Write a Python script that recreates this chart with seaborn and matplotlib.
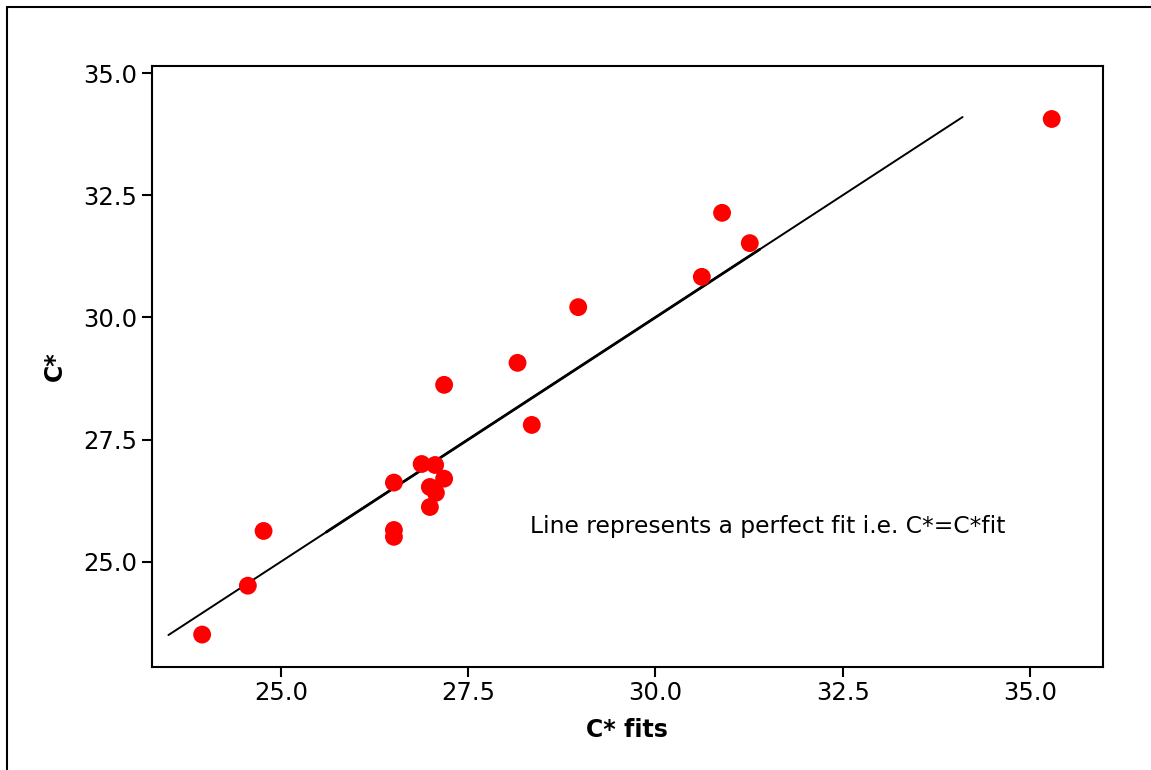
import numpy as np
import pandas as pd
import seaborn as sns
import matplotlib.pyplot as plt
from matplotlib.lines import Line2D

# ------------------- Data -------------------
c_fits = [23.95, 24.56, 24.77, 26.51, 26.51, 26.51, 26.88, 26.99, 26.99, 27.06,
          27.07, 27.18, 27.18, 28.16, 28.35, 28.97, 30.62, 30.89, 31.26, 35.29]
c_star = [23.51, 24.51, 25.63, 26.62, 25.65, 25.51, 27.00, 26.53, 26.12, 26.98,
          26.41, 26.70, 28.62, 29.07, 27.80, 30.21, 30.83, 32.14, 31.52, 34.06]
line_ends = [23.5, 34.1]
thick_ends = [25.6, 31.4]

df = pd.DataFrame({'C* fits': c_fits, 'C*': c_star})

# ------------------- Plot -------------------
sns.set_style('ticks')
plt.rcParams['font.family'] = ['DejaVu Sans']
plt.rcParams['text.color'] = 'black'
plt.rcParams['axes.labelcolor'] = 'black'

fig = plt.figure(figsize=(11.51, 7.70), dpi=100)
ax = fig.add_axes([0.132, 0.134, 0.826, 0.780])

# perfect-fit line y = x (drawn heavier where the fits overlap)
ax.plot(line_ends, line_ends, color='black', lw=1.4, zorder=1)
ax.plot(thick_ends, thick_ends, color='black', lw=2.0, zorder=1,
        solid_capstyle='butt')

sns.scatterplot(data=df, x='C* fits', y='C*', color='red', s=165,
                edgecolor='none', ax=ax, zorder=2)

ax.set_xlim(23.28, 35.97)
ax.set_ylim(22.85, 35.14)
ax.set_xticks([25.0, 27.5, 30.0, 32.5, 35.0])
ax.set_yticks([25.0, 27.5, 30.0, 32.5, 35.0])
ax.set_xticklabels(['25.0', '27.5', '30.0', '32.5', '35.0'])
ax.set_yticklabels(['25.0', '27.5', '30.0', '32.5', '35.0'])
ax.tick_params(labelsize=17.5, length=7, width=1.5, color='black', labelcolor='black')
for sp in ax.spines.values():
    sp.set_linewidth(1.5)
    sp.set_color('black')
    sp.set_visible(True)

ax.set_xlabel('C* fits', fontsize=17, fontweight='bold', labelpad=9)
ax.set_ylabel('C*', fontsize=17, fontweight='bold', labelpad=12)

ax.text(28.32, 25.72, 'Line represents a perfect fit i.e. C*=C*fit',
        fontsize=16.8, ha='left', va='center')

# outer frame (left and top edges)
fig.add_artist(Line2D([0.0065, 0.0065], [0.0, 0.991], transform=fig.transFigure,
                      color='black', lw=1.5))
fig.add_artist(Line2D([0.0065, 1.0], [0.991, 0.991], transform=fig.transFigure,
                      color='black', lw=1.5))

fig.savefig('out.png', dpi=100)
